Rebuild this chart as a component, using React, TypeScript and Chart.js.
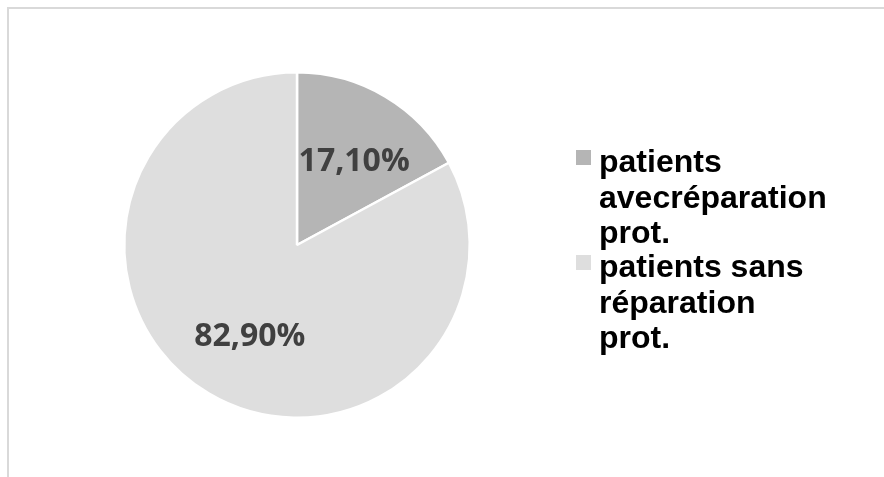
import React, { useEffect, useRef } from "react";
import { Chart, registerables } from "chart.js";

Chart.register(...registerables);

const categories = ["patients avecréparation prot.", "patients sans réparation prot."];
const values = [17.1, 82.9];
const valueLabels = ["17,10%", "82,90%"];
const colors = ["#b5b5b5", "#dedede"];

const framePlugin = {
  id: "frame",
  beforeDraw(chart: any) {
    const ctx = chart.ctx;
    ctx.save();
    ctx.fillStyle = "#ffffff";
    ctx.fillRect(0, 0, chart.width, chart.height);
    ctx.strokeStyle = "#d9d9d9";
    ctx.lineWidth = 2;
    ctx.strokeRect(8, 8, chart.width + 100, chart.height + 100);
    ctx.restore();
  },
};

const labelPlugin = {
  id: "sliceLabels",
  afterDatasetsDraw(chart: any) {
    const ctx = chart.ctx;
    const meta = chart.getDatasetMeta(0);
    ctx.save();
    ctx.font = "bold 32px 'Open Sans'";
    ctx.fillStyle = "#404040";
    ctx.textAlign = "center";
    ctx.textBaseline = "middle";
    meta.data.forEach((arc: any, i: number) => {
      const { x, y, startAngle, endAngle, outerRadius } = arc.getProps(
        ["x", "y", "startAngle", "endAngle", "outerRadius"],
        true
      );
      const mid = (startAngle + endAngle) / 2;
      const r = outerRadius * 0.59;
      ctx.fillText(valueLabels[i], x + Math.cos(mid) * r + 5, y + Math.sin(mid) * r + 4);
    });
    ctx.restore();
  },
};

const legendPlugin = {
  id: "customLegend",
  afterDraw(chart: any) {
    const ctx = chart.ctx;
    ctx.save();
    ctx.font = "bold 32px 'Liberation Sans', Arial, sans-serif";
    ctx.textBaseline = "alphabetic";
    ctx.textAlign = "left";
    const maxW = 230;
    const lineH = 35.5;
    let baseline = 172;
    categories.forEach((label, i) => {
      const words = label.split(" ");
      const lines: string[] = [];
      let cur = "";
      words.forEach((w) => {
        const test = cur ? cur + " " + w : w;
        if (cur && ctx.measureText(test).width > maxW) {
          lines.push(cur);
          cur = w;
        } else {
          cur = test;
        }
      });
      if (cur) lines.push(cur);
      ctx.fillStyle = colors[i];
      ctx.fillRect(576, baseline - 22, 15, 15);
      ctx.fillStyle = "#000000";
      lines.forEach((ln, j) => {
        ctx.fillText(ln, 599, baseline + j * lineH);
      });
      baseline += lines.length * lineH - 1.5;
    });
    ctx.restore();
  },
};

export default function App() {
  const ref = useRef<HTMLCanvasElement | null>(null);
  useEffect(() => {
    if (!ref.current) return;
    const chart = new Chart(ref.current, {
      type: "pie",
      data: {
        labels: categories,
        datasets: [
          {
            data: values,
            backgroundColor: colors,
            borderColor: "#ffffff",
            borderWidth: 2.5,
          },
        ],
      },
      options: {
        responsive: false,
        animation: false,
        layout: { padding: { left: 123, top: 71, right: 413, bottom: 58 } },
        plugins: {
          legend: { display: false },
          tooltip: { enabled: false },
        },
      },
      plugins: [framePlugin, labelPlugin, legendPlugin],
    });
    return () => chart.destroy();
  }, []);
  return (
    <canvas
      ref={ref}
      width={884}
      height={477}
      style={{ position: "fixed", left: 0, top: 0, width: 884, height: 477 }}
    />
  );
}
